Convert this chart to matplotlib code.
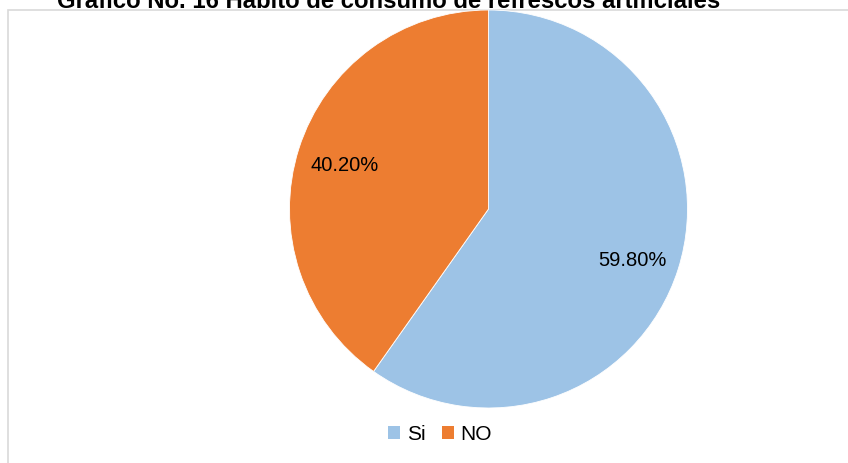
import matplotlib.pyplot as plt
from matplotlib.patches import Rectangle, Patch

categorias = ["Si", "NO"]
porcentajes = [59.80, 40.20]
colores = ["#9DC3E6", "#ED7D31"]
titulo = "Gráfico No. 16 Hábito de consumo de refrescos artificiales"

W, H = 848, 463
fig = plt.figure(figsize=(W / 100, H / 100), dpi=100)
ax = fig.add_axes([0, 0, 1, 1])
ax.set_xlim(0, W)
ax.set_ylim(0, H)
ax.set_aspect("equal")
ax.axis("off")

# marco gris del area del grafico
ax.add_patch(Rectangle((8, -20), W + 20, H - 10 + 20, fill=False,
                       edgecolor="#d9d9d9", linewidth=1.2))

fuente = ["Liberation Sans", "DejaVu Sans"]

wedges, textos, autotextos = ax.pie(
    porcentajes, colors=colores, startangle=90, counterclock=False,
    center=(488.5, H - 209), radius=199, autopct="%.2f%%", pctdistance=0.76,
    wedgeprops=dict(edgecolor="white", linewidth=0.6),
    textprops=dict(fontsize=14.5, family=fuente, color="black"))
ax.set_xlim(0, W)
ax.set_ylim(0, H)

# ajuste fino de las etiquetas de porcentaje
x, y = autotextos[0].get_position()
autotextos[0].set_position((x, y - 6))
x, y = autotextos[1].get_position()
autotextos[1].set_position((x, y - 2))

fig.text(389 / W, 1 - 8 / H, titulo, ha="center", va="baseline",
         fontsize=17.2, fontweight="bold", family=fuente)

handles = [Patch(facecolor=c, edgecolor="none") for c in colores]
fig.legend(handles, categorias, loc="center", bbox_to_anchor=(440 / W, 1 - 434 / H),
           ncol=2, frameon=False, prop=dict(family=fuente, size=15),
           handlelength=0.6, handleheight=0.6, handletextpad=0.3, columnspacing=0.8)

fig.savefig("out.png", dpi=100)
